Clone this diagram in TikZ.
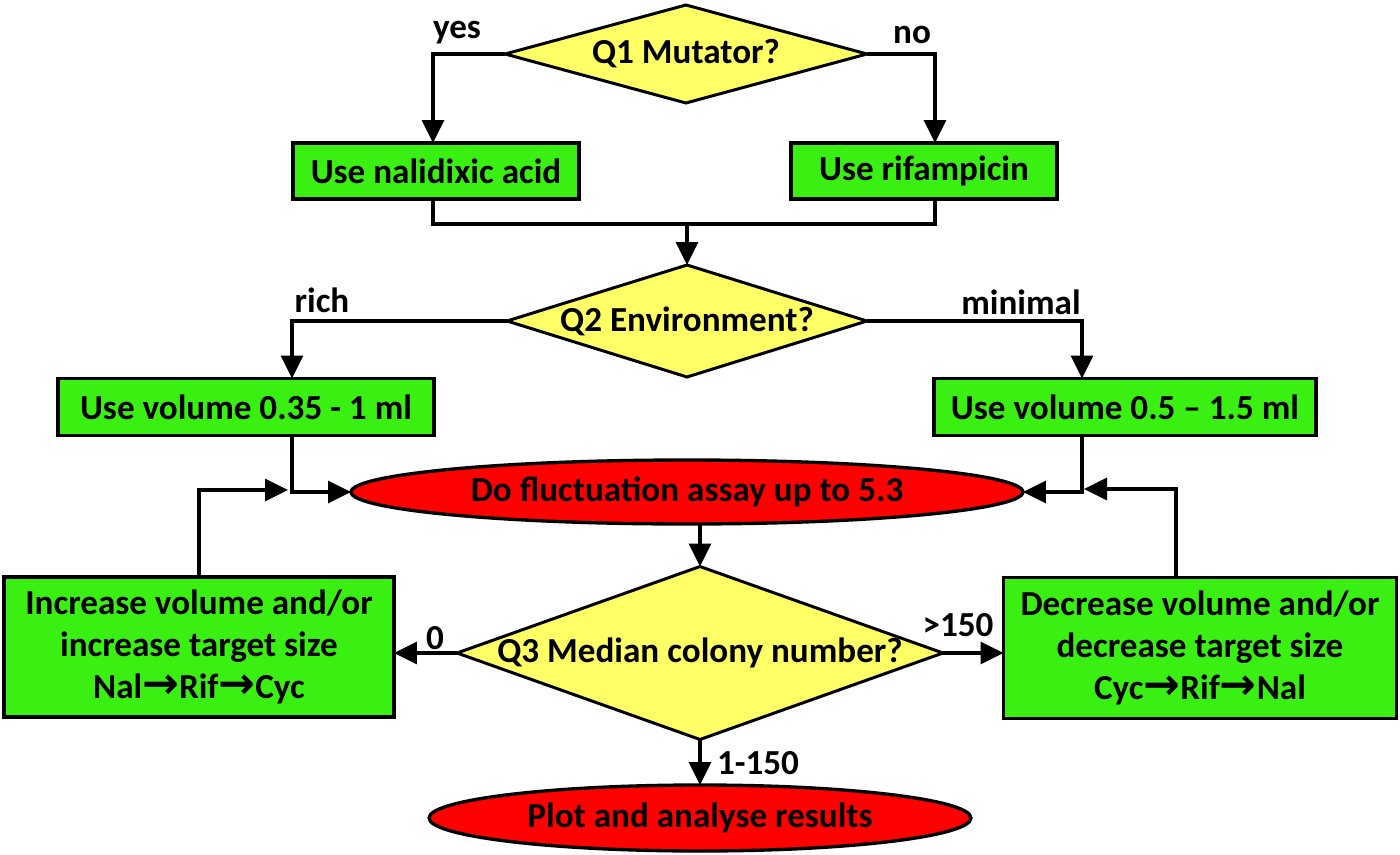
\documentclass[tikz,border=0pt]{standalone}
\usepackage{fontspec}
\setmainfont{Carlito}
\newfontfamily\arrowfont{DejaVu Sans}
\usetikzlibrary{shapes.geometric,arrows.meta,calc}
\definecolor{boxgreen}{RGB}{58,240,18}
\definecolor{qyellow}{RGB}{255,255,102}
\definecolor{ovalred}{RGB}{255,0,0}
\newcommand{\rarr}{{\arrowfont\bfseries\fontsize{25}{24}\selectfont →}}
\begin{document}
\begin{tikzpicture}[x=0.02cm,y=-0.02cm,
  font=\fontsize{20}{24}\selectfont\bfseries,
  every node/.style={inner sep=0pt, outer sep=0pt},
  gbox/.style={draw, fill=boxgreen, line width=1.9pt, align=center},
  qdia/.style={draw, fill=qyellow, diamond, line width=1.7pt},
  oval/.style={draw, fill=ovalred, ellipse, line width=1.9pt},
  arr/.style={line width=1.9pt, -{Triangle[length=0.46cm,width=0.44cm]}},
  conn/.style={line width=1.9pt}]
\useasboundingbox (0,0) rectangle (1400,855);

% decisions
\node[qdia, minimum width=7.24cm, minimum height=1.96cm, label=center:{Q1 Mutator?}] (q1) at (686,54) {};
\node[qdia, minimum width=7.2cm, minimum height=2.24cm, label=center:{Q2 Environment?}] (q2) at (687,321) {};
\node[qdia, minimum width=9.72cm, minimum height=3.46cm, label=center:{Q3 Median colony number?}] (q3) at (700,653) {};

% boxes
\node[gbox, minimum width=5.72cm, minimum height=1.12cm] (nal) at (436,171) {Use nalidixic acid};
\node[gbox, minimum width=5.32cm, minimum height=1.12cm] (rif) at (924,171) {Use rifampicin};
\node[gbox, minimum width=7.52cm, minimum height=1.14cm] (vl) at (246,407) {Use volume 0.35 - 1 ml};
\node[gbox, minimum width=7.64cm, minimum height=1.14cm] (vr) at (1125,407) {Use volume 0.5 – 1.5 ml};
\node[gbox, minimum width=7.8cm, minimum height=2.8cm] (inc) at (199,647)
  {Increase volume and/or\\increase target size\\Nal\rarr Rif\rarr Cyc};
\node[gbox, minimum width=7.86cm, minimum height=2.82cm] (dec) at (1200,648)
  {Decrease volume and/or\\decrease target size\\Cyc\rarr Rif\rarr Nal};

% ovals
\node[oval, minimum width=13.44cm, minimum height=1.28cm] (e1) at (687,492) {Do fluctuation assay up to 5.3};
\node[oval, minimum width=10.84cm, minimum height=1.32cm] (e2) at (700,818) {Plot and analyse results};

% helper coordinates
\coordinate (j1) at (687,224);
\coordinate (c1) at (288,490);
\coordinate (c2) at (1084,489);

% Q1 branches
\draw[arr] (q1.west) -| ($(nal.north)+(-3,0)$);
\draw[arr] (q1.east) -| ($(rif.north)+(11,0)$);
\node (yes) at (457,33) {yes};
\node (no) at (912,35) {no};

% merge to Q2
\draw[conn] ($(nal.south)+(-3,0)$) |- (j1) -| ($(rif.south)+(11,0)$);
\draw[arr] (j1) -- (q2.north);

% Q2 branches
\draw[arr] (q2.west) -| ($(vl.north)+(46,0)$);
\draw[arr] (q2.east) -| ($(vr.north)+(-43,0)$);
\node (rich) at (322,300) {rich};
\node (minimal) at (1021,302) {minimal};

% into assay
\draw[arr] ($(vl.south)+(46,0)$) |- (e1.west);
\draw[arr] ($(vr.south)+(-43,0)$) |- (e1.east);
\draw[arr] (inc.north) |- (c1);
\draw[arr] ($(dec.north)+(-24,0)$) |- (c2);

% assay to Q3
\draw[arr] (e1.south -| q3.north) -- (q3.north);

% Q3 branches
\draw[arr] (q3.west) -- (q3.west -| inc.east);
\draw[arr] (q3.east) -- (q3.east -| dec.west);
\draw[arr] (q3.south) -- (e2.north);
\node (zero) at (435,638) {0};
\node (gt) at (958,625) {>150};
\node (mid) at (758,763) {1-150};
\end{tikzpicture}
\end{document}
